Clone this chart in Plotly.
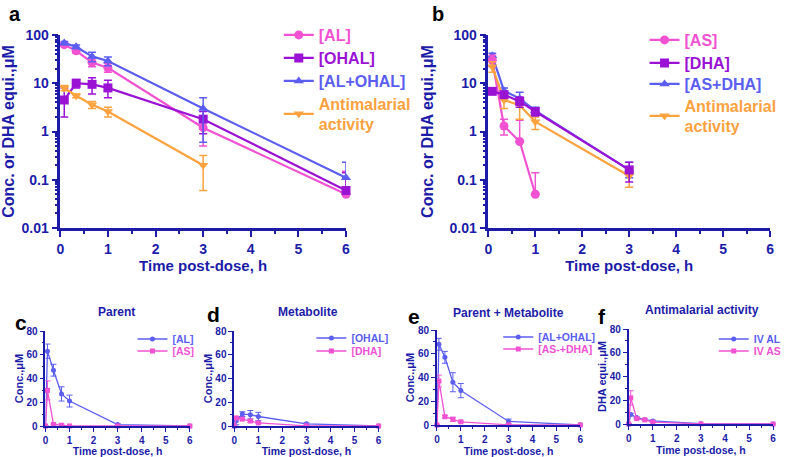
import plotly.graph_objects as go

# ---------------- data ----------------
t_log = [0.083, 0.333, 0.667, 1, 3, 6]
t_lin = [0, 0.083, 0.333, 0.667, 1, 3, 6]

# Panel a (IV AL) – mean conc. (uM)
al = [63, 47, 27, 21, 1.2, 0.05]
al_ep = [6, 5, 6, 5, 0.8, 0.1]
al_em = [6, 5, 5, 4, 0.7, 0.0]
ohal = [4.5, 10, 9.5, 8, 1.8, 0.06]
ohal_ep = [3.5, 2, 3.5, 3.5, 0.8, 0.08]
ohal_em = [2.5, 2, 3.5, 3, 0.9, 0.0]
alohal = [68, 57, 36, 29, 3, 0.11]
alohal_ep = [5, 5, 8, 6, 2, 0.12]
alohal_em = [5, 5, 8, 6, 2.4, 0.0]
am_al = [8, 5.5, 3.6, 2.6, 0.2, None]
am_al_ep = [1, 0.5, 0.6, 0.6, 0.12, 0]
am_al_em = [1, 0.5, 0.6, 0.6, 0.14, 0]

# Panel b (IV AS)
as_ = [30, 1.3, 0.62, 0.05, None, None]
as_ep = [8, 0.5, 1.1, 0.09, 0, 0]
as_em = [8, 0.45, 0.0, 0.0, 0, 0]
dha = [6.8, 5.8, 4.2, 2.6, 0.16, None]
dha_ep = [0.5, 0.6, 1, 0.5, 0.07, 0]
dha_em = [0.5, 0.6, 1, 0.5, 0.07, 0]
asdha = [37, 7, 4.8, 2.7, 0.16, None]
asdha_ep = [5, 1, 1.7, 0.5, 0.07, 0]
asdha_em = [5, 1, 1, 0.5, 0.05, 0]
am_as = [22, 4.5, 3.5, 1.6, 0.12, None]
am_as_ep = [6, 0.8, 0.6, 0.4, 0.03, 0]
am_as_em = [5, 1.5, 1.7, 0.5, 0.05, 0]

y_ticks = [0.01, 0.1, 1, 10, 100]
y_ticktext = ["0.01", "0.1", "1", "10", "100"]
lin_ticks = [0, 20, 40, 60, 80]

PINK = "#f052d2"
PURPLE = "#9a12d4"
BLUE = "#5b5ef0"
ORANGE = "#fca23f"
AX = "#1c1ca8"
FONT = "Liberation Sans"
W, H = 787, 457


def px_x(p):
    return p / W


def px_y(p):
    return 1 - p / H


def lin(vals):
    return [0] + [v if v is not None else 0 for v in vals]


def lin_err(vals):
    return [0] + list(vals)


fig = go.Figure()
legends = {}
leg_count = [0]


def new_legend(x, y, size):
    leg_count[0] += 1
    key = "legend" if leg_count[0] == 1 else "legend%d" % leg_count[0]
    legends[key] = dict(x=px_x(x), y=px_y(y), xanchor="left", yanchor="middle",
                        bgcolor="rgba(0,0,0,0)", itemwidth=30,
                        font=dict(family=FONT, size=size, weight="bold"))
    return key


def add_log(xa, ya, y, ep, em, name, color, symbol, lx, ly):
    fig.add_trace(go.Scatter(
        x=t_log, y=y, mode="lines+markers", xaxis=xa, yaxis=ya,
        name='<span style="color:%s">%s</span>' % (color, name),
        line=dict(color=color, width=2.2),
        marker=dict(color=color, symbol=symbol, size=9),
        error_y=dict(type="data", array=ep, arrayminus=em, color=color,
                     thickness=1.5, width=4),
        legend=new_legend(lx, ly, 16), cliponaxis=False))


add_log("x", "y", al, al_ep, al_em, "[AL]", PINK, "circle", 282, 35)
add_log("x", "y", ohal, ohal_ep, ohal_em, "[OHAL]", PURPLE, "square", 282, 58)
add_log("x", "y", alohal, alohal_ep, alohal_em, "[AL+OHAL]", BLUE, "triangle-up", 282, 81)
add_log("x", "y", am_al, am_al_ep, am_al_em, "Antimalarial<br>activity", ORANGE, "triangle-down", 282, 114)

add_log("x2", "y2", asdha, asdha_ep, asdha_em, "[AS+DHA]", BLUE, "triangle-up", 652, 84)
add_log("x2", "y2", as_, as_ep, as_em, "[AS]", PINK, "circle", 652, 40)
add_log("x2", "y2", am_as, am_as_ep, am_as_em, "Antimalarial<br>activity", ORANGE, "triangle-down", 652, 116)
add_log("x2", "y2", dha, dha_ep, dha_em, "[DHA]", PURPLE, "square", 652, 63)


def add_lin(xa, ya, y, ep, name, color, symbol, lx, ly):
    fig.add_trace(go.Scatter(
        x=t_lin, y=lin(y), mode="lines+markers", xaxis=xa, yaxis=ya,
        name='<span style="color:%s">%s</span>' % (color, name),
        line=dict(color=color, width=1.3),
        marker=dict(color=color, symbol=symbol, size=5),
        error_y=dict(type="data", array=lin_err(ep), symmetric=True, color=color,
                     thickness=1, width=3),
        legend=new_legend(lx, ly, 10.5), cliponaxis=False))


add_lin("x3", "y3", al, al_ep, "[AL]", BLUE, "circle", 134, 339)
add_lin("x3", "y3", as_, as_ep, "[AS]", PINK, "square", 134, 351)
add_lin("x4", "y4", ohal, ohal_ep, "[OHAL]", BLUE, "circle", 315, 338)
add_lin("x4", "y4", dha, dha_ep, "[DHA]", PINK, "square", 315, 351)
add_lin("x5", "y5", alohal, alohal_ep, "[AL+OHAL]", BLUE, "circle", 504, 337)
add_lin("x5", "y5", asdha, asdha_ep, "[AS-+DHA]", PINK, "square", 504, 349)
add_lin("x6", "y6", am_al, am_al_ep, "IV AL", BLUE, "circle", 722, 339)
add_lin("x6", "y6", am_as, am_as_ep, "IV AS", PINK, "square", 722, 351)


def xaxis(x0, x1, anchor, big):
    return dict(
        domain=[px_x(x0), px_x(x1)], anchor=anchor, range=[0, 6], dtick=1,
        automargin=False,
        showgrid=False, zeroline=False, showline=True,
        linecolor=AX, linewidth=2.5 if big else 1.6,
        ticks="outside", ticklen=6 if big else 4, tickwidth=2 if big else 1.3, tickcolor=AX,
        minor=dict(ticks="outside", dtick=0.5, ticklen=3 if big else 2,
                   tickwidth=2 if big else 1.2, tickcolor=AX),
        tickfont=dict(family=FONT, size=14 if big else 10, color=AX, weight="bold"),
        title=dict(text="Time post-dose, h", standoff=2 if big else 3,
                   font=dict(family=FONT, size=15 if big else 10.5, color=AX, weight="bold")),
    )


def yaxis_log(y0, y1, anchor):
    minor_vals = [m * 10 ** k for k in range(-2, 2) for m in range(2, 10)]
    return dict(
        domain=[px_y(y1), px_y(y0)], anchor=anchor, type="log", range=[-2, 2],
        automargin=False,
        tickmode="array", tickvals=y_ticks, ticktext=y_ticktext,
        showgrid=False, zeroline=False, showline=True, linecolor=AX, linewidth=2.5,
        ticks="outside", ticklen=6, tickwidth=2, tickcolor=AX,
        minor=dict(ticks="outside", tickvals=minor_vals, ticklen=3, tickwidth=1.5, tickcolor=AX),
        tickfont=dict(family=FONT, size=14, color=AX, weight="bold"),
        title=dict(text="Conc. or DHA equi.,μM", standoff=12,
                   font=dict(family=FONT, size=16, color=AX, weight="bold")),
    )


def yaxis_lin(y0, y1, anchor, title):
    return dict(
        domain=[px_y(y1), px_y(y0)], anchor=anchor, range=[0, 80],
        automargin=False,
        tickmode="array", tickvals=lin_ticks,
        showgrid=False, zeroline=False, showline=True, linecolor=AX, linewidth=1.6,
        ticks="outside", ticklen=4, tickwidth=1.3, tickcolor=AX,
        minor=dict(ticks="outside", dtick=10, ticklen=2, tickwidth=1.2, tickcolor=AX),
        tickfont=dict(family=FONT, size=10, color=AX, weight="bold"),
        title=dict(text=title, standoff=1,
                   font=dict(family=FONT, size=11, color=AX, weight="bold")),
    )


fig.update_layout(
    width=W, height=H, margin=dict(l=0, r=0, t=0, b=0),
    paper_bgcolor="white", plot_bgcolor="white", showlegend=True,
    xaxis=xaxis(61, 350, "y", True), yaxis=yaxis_log(35, 228, "x"),
    xaxis2=xaxis(494, 779, "y2", True), yaxis2=yaxis_log(35, 228, "x2"),
    xaxis3=xaxis(46, 192, "y3", False), yaxis3=yaxis_lin(331, 426, "x3", "Conc.,μM"),
    xaxis4=xaxis(237, 383, "y4", False), yaxis4=yaxis_lin(331, 426, "x4", "Conc.,μM"),
    xaxis5=xaxis(442, 587, "y5", False), yaxis5=yaxis_lin(330, 425, "x5", "Conc.,μM"),
    xaxis6=xaxis(636, 782, "y6", False), yaxis6=yaxis_lin(329, 424, "x6", "DHA equi.,μM"),
    **legends,
)

labels = [("a", 15, 14, 20), ("b", 443, 14, 20), ("c", 21, 322, 21), ("d", 216, 314, 21),
          ("e", 419, 316, 21), ("f", 609, 316, 21)]
for txt, x, y, s in labels:
    fig.add_annotation(text="<b>%s</b>" % txt, x=px_x(x), y=px_y(y), xref="paper", yref="paper",
                       showarrow=False, font=dict(family=FONT, size=s, color="black"),
                       xanchor="center", yanchor="middle")

titles = [("Parent", 118, 312), ("Metabolite", 312, 312), ("Parent + Metabolite", 514, 313),
          ("Antimalarial activity", 710, 310)]
for txt, x, y in titles:
    fig.add_annotation(text="<b>%s</b>" % txt, x=px_x(x), y=px_y(y), xref="paper", yref="paper",
                       showarrow=False, font=dict(family=FONT, size=12, color=AX),
                       xanchor="center", yanchor="middle")

fig.write_html("out.html", config={"displayModeBar": False},
               post_script="document.body.style.margin='0px';")
